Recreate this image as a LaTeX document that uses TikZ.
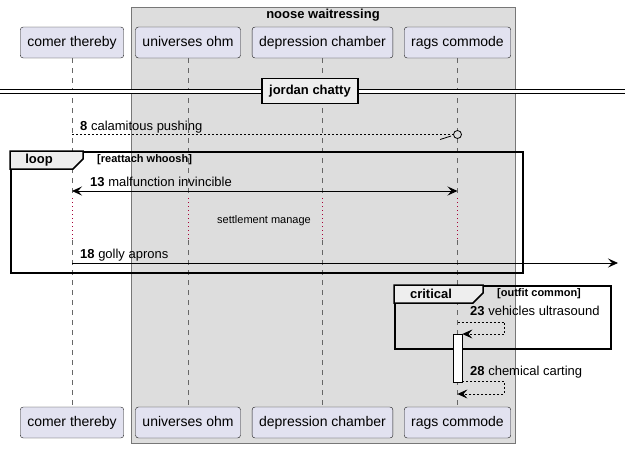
\documentclass[tikz,border=0pt]{standalone}
\usepackage{fontspec}
\setmainfont{Liberation Sans}
\definecolor{partfill}{HTML}{E2E2F0}
\definecolor{partline}{HTML}{181818}
\definecolor{boxfill}{HTML}{DDDDDD}
\definecolor{boxline}{HTML}{777777}
\definecolor{tabfill}{HTML}{EEEEEE}
\definecolor{delayred}{HTML}{A80036}
\usetikzlibrary{arrows.meta,calc}

\begin{document}
\begin{tikzpicture}[
  x=1pt, y=-1pt,
  font=\fontsize{13}{15}\selectfont,
  part/.style={draw=partline, fill=partfill, rounded corners=3pt, inner xsep=7pt, inner ysep=0pt, text height=10.5pt, text depth=3pt, minimum height=31pt, font=\fontsize{14}{16}\selectfont},
  grp/.style={draw=boxline, fill=boxfill, line width=0.8pt, inner sep=0pt},
  life/.style={draw=black!60, line width=0.6pt, dash pattern=on 5pt off 5pt},
  delay/.style={draw=delayred, line width=0.8pt, dash pattern=on 1pt off 3pt},
  frame/.style={draw=black, line width=1.5pt, inner sep=0pt},
  tab/.style={draw=black, line width=1.5pt, fill=tabfill},
  msg/.style={-{Stealth[length=10pt,width=9pt,inset=4pt]}, line width=0.8pt},
  both/.style={{Stealth[length=10pt,width=9pt,inset=4pt]}-{Stealth[length=10pt,width=9pt,inset=4pt]}, line width=0.8pt},
  retmsg/.style={-{Stealth[length=10pt,width=9pt,inset=4pt]}, line width=0.8pt, dash pattern=on 2pt off 2pt},
  lbl/.style={anchor=west, inner sep=0pt},
  cond/.style={anchor=west, inner sep=0pt, font=\fontsize{11}{13}\selectfont\bfseries},
  act/.style={draw=black, fill=white, line width=0.8pt, inner sep=0pt, minimum width=9pt, minimum height=48pt},
]
  \useasboundingbox (0,0) rectangle (625,448);

  % box round the three participants
  \node[grp, minimum width=384, minimum height=436, anchor=north west] (noose) at (131,7) {};
  \node[font=\fontsize{13}{15}\selectfont\bfseries] (nooselbl) at (323,15) {noose waitressing};

  % participants, top and bottom
  \node[part] (comer)      at (72,42.5)  {comer thereby};
  \node[part] (universes)  at (188,42.5) {universes ohm};
  \node[part] (depression) at (322.5,42.5) {depression chamber};
  \node[part] (rags)       at (457.5,42.5) {rags commode};
  \node[part] (comerbot)      at (72,422.5)  {comer thereby};
  \node[part] (universesbot)  at (188,422.5) {universes ohm};
  \node[part] (depressionbot) at (322.5,422.5) {depression chamber};
  \node[part] (ragsbot)       at (457.5,422.5) {rags commode};

  % lifelines, broken by the delay
  \coordinate (dtop) at (0,198);
  \coordinate (dbot) at (0,240);
  \foreach \p in {comer,universes,depression,rags}{
    \draw[life] (\p) -- (\p |- dtop);
    \draw[delay] (\p |- dtop) -- (\p |- dbot);
    \draw[life] (\p |- dbot) -- (\p bot);
  }

  % divider
  \coordinate (divl) at (0,91.5);
  \coordinate (divr) at (625,91.5);
  \draw[double, double distance=3pt, line width=1pt] (divl) -- (divr);
  \node[draw=black, line width=1.5pt, fill=tabfill, minimum height=25pt, inner xsep=7pt, font=\fontsize{13}{15}\selectfont\bfseries] (jordan) at (310,91) {jordan chatty};

  % 8
  \coordinate (m8) at (0,134.5);
  \node[draw=black, fill=boxfill, circle, line width=0.8pt, minimum size=8pt, inner sep=0pt] (m8end) at (rags |- m8) {};
  \draw[line width=0.8pt, dash pattern=on 2pt off 2pt] (comer |- m8) -- (m8end);
  \draw[line width=0.8pt] ($(m8end.west)+(-13,5)$) -- ($(m8end.west)+(-2,1.5)$);
  \node[lbl] (l8) at (80,127) {\textbf{8} calamitous pushing};

  % loop
  \node[frame, minimum width=512, minimum height=121, anchor=north west] (loopbox) at (10,151) {};
  \draw[tab] (loopbox.north west) -- ++(73,0) -- ++(0,8) -- ++(-10,10) -- ++(-63,0) -- cycle;
  \node[font=\fontsize{13}{15}\selectfont\bfseries] (looplbl) at (39,160) {loop};
  \node[cond] (loopcond) at (97,160) {[reattach whoosh]};

  % 13
  \coordinate (m13) at (0,191);
  \draw[both] (comer |- m13) -- (rags |- m13);
  \node[lbl] (l13) at (90,182) {\textbf{13} malfunction invincible};

  \node[font=\fontsize{11}{13}\selectfont] (settle) at (264,221) {settlement manage};

  % 18
  \coordinate (edge18) at (618,263);
  \draw[msg] (comer |- edge18) -- (edge18);
  \node[lbl] (l18) at (80,255) {\textbf{18} golly aprons};

  % critical
  \node[frame, minimum width=216, minimum height=63, anchor=north west] (critbox) at (394,285) {};
  \draw[tab] (critbox.north west) -- ++(89,0) -- ++(0,8) -- ++(-10,10) -- ++(-79,0) -- cycle;
  \node[font=\fontsize{13}{15}\selectfont\bfseries] (critlbl) at (431,294) {critical};
  \node[cond] (critcond) at (497,294) {[outfit common]};

  % 23 and 28
  \node[act, anchor=north] (act) at (457.5,334) {};
  \coordinate (m23) at (0,322);
  \draw[retmsg] (rags |- m23) -- ++(47,0) -- ++(0,12) -- (act.north east);
  \node[lbl] (l23) at (470,311) {\textbf{23} vehicles ultrasound};

  \coordinate (m28) at (0,381);
  \draw[retmsg] (act.east |- m28) -- ++(42,0) -- ++(0,13) -- ++(-47,0);
  \node[lbl] (l28) at (470,372) {\textbf{28} chemical carting};
\end{tikzpicture}
\end{document}
